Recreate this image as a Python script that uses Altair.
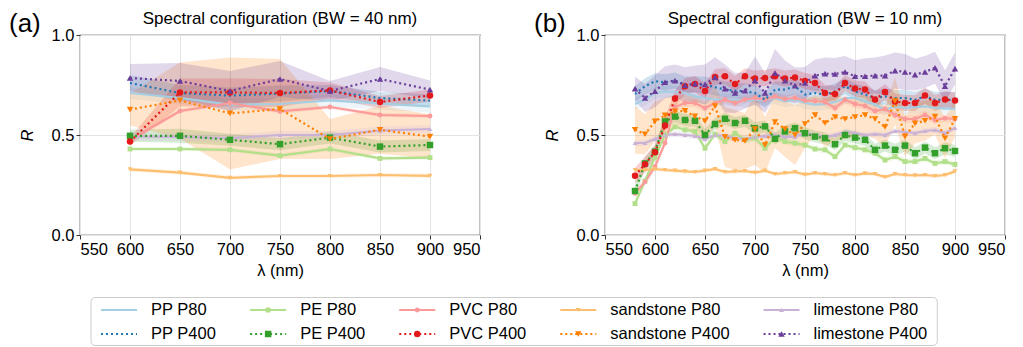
import altair as alt
import pandas as pd

# ---------------- categories / styles ----------------
series = ["PP P80", "PP P400", "PE P80", "PE P400", "PVC P80", "PVC P400",
          "sandstone P80", "sandstone P400", "limestone P80", "limestone P400"]
colors = ["#a6cee3", "#1f78b4", "#b2df8a", "#33a02c", "#fb9a99", "#e31a1c",
          "#fdbf6f", "#ff7f00", "#cab2d6", "#6a3d9a"]
marker_series = ["PE P80", "PE P400", "PVC P80", "PVC P400",
                 "sandstone P80", "sandstone P400", "limestone P80", "limestone P400"]
marker_shapes = ["square", "square", "circle", "circle",
                 "triangle-down", "triangle-down", "triangle-up", "triangle-up"]
x_ticks = [550, 600, 650, 700, 750, 800, 850, 900, 950]
y_ticks = [0.0, 0.5, 1.0]

# ---------------- panel (a): BW = 40 nm ----------------
wl_a = [600, 650, 700, 750, 800, 850, 900]
pp_p80_a = [0.71, 0.685, 0.652, 0.655, 0.673, 0.657, 0.643]
pp_p400_a = [0.76, 0.71, 0.697, 0.707, 0.72, 0.685, 0.672]
pe_p80_a = [0.43, 0.43, 0.426, 0.397, 0.43, 0.383, 0.387]
pe_p400_a = [0.496, 0.496, 0.476, 0.454, 0.487, 0.442, 0.45]
pvc_p80_a = [0.475, 0.62, 0.66, 0.618, 0.64, 0.6, 0.595]
pvc_p400_a = [0.467, 0.713, 0.713, 0.71, 0.723, 0.665, 0.698]
ss_p80_a = [0.328, 0.312, 0.286, 0.295, 0.295, 0.3, 0.296]
ss_p400_a = [0.627, 0.673, 0.608, 0.63, 0.48, 0.526, 0.492]
ls_p80_a = [0.492, 0.49, 0.484, 0.5, 0.5, 0.522, 0.53]
ls_p400_a = [0.785, 0.77, 0.72, 0.78, 0.72, 0.78, 0.727]

pp_p80_a_sd = [0.03, 0.03, 0.03, 0.03, 0.03, 0.03, 0.03]
pp_p400_a_sd = [0.04, 0.04, 0.04, 0.04, 0.03, 0.03, 0.03]
pe_p80_a_sd = [0.01, 0.01, 0.01, 0.01, 0.01, 0.01, 0.01]
pe_p400_a_sd = [0.03, 0.035, 0.03, 0.03, 0.03, 0.03, 0.03]
pvc_p80_a_sd = [0.01, 0.01, 0.01, 0.01, 0.01, 0.01, 0.01]
pvc_p400_a_sd = [0.02, 0.07, 0.07, 0.07, 0.04, 0.03, 0.03]
ss_p80_a_sd = [0.01, 0.01, 0.01, 0.01, 0.01, 0.01, 0.01]
ss_p400_a_sd = [0.08, 0.19, 0.28, 0.25, 0.1, 0.12, 0.11]
ls_p80_a_sd = [0.02, 0.02, 0.02, 0.02, 0.02, 0.02, 0.02]
ls_p400_a_sd = [0.07, 0.09, 0.1, 0.09, 0.05, 0.06, 0.045]

# ---------------- panel (b): BW = 10 nm ----------------
wl_b = [580, 590, 600, 610, 620, 630, 640, 650, 660, 670, 680, 690, 700, 710, 720, 730, 740,
        750, 760, 770, 780, 790, 800, 810, 820, 830, 840, 850, 860, 870, 880, 890, 900]
pp_p80_b = [0.655, 0.677, 0.71, 0.718, 0.715, 0.71, 0.693, 0.685,
            0.677, 0.677, 0.677, 0.668, 0.677, 0.677, 0.685, 0.668, 0.677, 0.66,
            0.652, 0.655, 0.665, 0.685, 0.685, 0.668, 0.652, 0.626, 0.643, 0.635,
            0.638, 0.643, 0.635, 0.632, 0.632]
pp_p400_b = [0.705, 0.744, 0.769, 0.764, 0.772, 0.752, 0.752, 0.752,
             0.739, 0.727, 0.722, 0.718, 0.71, 0.676, 0.727, 0.727, 0.744, 0.702,
             0.71, 0.702, 0.718, 0.744, 0.718, 0.702, 0.685, 0.693, 0.685, 0.685,
             0.676, 0.693, 0.676, 0.676, 0.676]
pe_p80_b = [0.157, 0.27, 0.39, 0.5, 0.541, 0.526, 0.518, 0.434,
            0.504, 0.467, 0.509, 0.476, 0.484, 0.434, 0.487, 0.467, 0.459, 0.45,
            0.43, 0.426, 0.392, 0.45, 0.437, 0.426, 0.409, 0.375, 0.392, 0.367,
            0.367, 0.383, 0.358, 0.367, 0.353]
pe_p400_b = [0.22, 0.358, 0.417, 0.568, 0.592, 0.575, 0.571, 0.5,
             0.555, 0.581, 0.56, 0.571, 0.534, 0.543, 0.481, 0.518, 0.534, 0.509,
             0.492, 0.484, 0.454, 0.5, 0.487, 0.476, 0.426, 0.447, 0.426, 0.447,
             0.409, 0.437, 0.409, 0.434, 0.42]
pvc_p80_b = [0.208, 0.266, 0.342, 0.46, 0.64, 0.66, 0.66, 0.635,
             0.66, 0.677, 0.66, 0.677, 0.685, 0.677, 0.693, 0.68, 0.685, 0.672,
             0.67, 0.665, 0.635, 0.676, 0.655, 0.645, 0.62, 0.63, 0.6, 0.58,
             0.581, 0.6, 0.575, 0.584, 0.58]
pvc_p400_b = [0.296, 0.354, 0.414, 0.547, 0.682, 0.744, 0.755, 0.72,
              0.79, 0.794, 0.755, 0.794, 0.782, 0.785, 0.794, 0.782, 0.787, 0.77,
              0.76, 0.71, 0.705, 0.76, 0.732, 0.727, 0.677, 0.715, 0.668, 0.66,
              0.66, 0.698, 0.66, 0.677, 0.672]
ss_p80_b = [0.325, 0.325, 0.33, 0.325, 0.322, 0.318, 0.315, 0.322,
            0.33, 0.315, 0.318, 0.32, 0.312, 0.322, 0.305, 0.31, 0.315, 0.302,
            0.31, 0.305, 0.3, 0.31, 0.3, 0.308, 0.305, 0.29, 0.305, 0.3,
            0.298, 0.3, 0.295, 0.3, 0.318]
ss_p400_b = [0.526, 0.504, 0.568, 0.598, 0.618, 0.621, 0.593, 0.57,
             0.645, 0.49, 0.475, 0.47, 0.53, 0.45, 0.565, 0.53, 0.5, 0.555,
             0.6, 0.56, 0.59, 0.58, 0.59, 0.6, 0.58, 0.54, 0.67, 0.492,
             0.558, 0.571, 0.592, 0.484, 0.581]
ls_p80_b = [0.46, 0.46, 0.48, 0.5, 0.505, 0.5, 0.495, 0.48,
            0.5, 0.495, 0.485, 0.48, 0.49, 0.495, 0.5, 0.49, 0.49, 0.51,
            0.5, 0.49, 0.5, 0.515, 0.51, 0.5, 0.505, 0.5, 0.52, 0.515,
            0.51, 0.52, 0.525, 0.51, 0.535]
ls_p400_b = [0.732, 0.685, 0.719, 0.764, 0.772, 0.749, 0.757, 0.753,
             0.789, 0.732, 0.71, 0.722, 0.772, 0.71, 0.81, 0.772, 0.747, 0.76,
             0.797, 0.807, 0.805, 0.815, 0.794, 0.794, 0.797, 0.797, 0.822, 0.815,
             0.802, 0.815, 0.836, 0.744, 0.832]

pp_p80_b_sd = [0.03, 0.03, 0.03, 0.03, 0.03, 0.03, 0.03, 0.03, 0.03, 0.03, 0.03,
               0.03, 0.03, 0.03, 0.03, 0.03, 0.03, 0.03, 0.03, 0.03, 0.03, 0.03,
               0.03, 0.03, 0.03, 0.03, 0.03, 0.03, 0.03, 0.03, 0.03, 0.03, 0.03]
pp_p400_b_sd = [0.04, 0.04, 0.04, 0.04, 0.04, 0.04, 0.04, 0.04, 0.04, 0.04, 0.04,
                0.04, 0.04, 0.04, 0.04, 0.04, 0.04, 0.04, 0.04, 0.04, 0.04, 0.04,
                0.04, 0.04, 0.04, 0.04, 0.04, 0.04, 0.04, 0.04, 0.04, 0.04, 0.04]
pe_p80_b_sd = [0.015, 0.015, 0.015, 0.015, 0.015, 0.015, 0.015, 0.015, 0.015, 0.015, 0.015,
               0.015, 0.015, 0.015, 0.015, 0.015, 0.015, 0.015, 0.015, 0.015, 0.015, 0.015,
               0.015, 0.015, 0.015, 0.015, 0.015, 0.015, 0.015, 0.015, 0.015, 0.015, 0.015]
pe_p400_b_sd = [0.03, 0.03, 0.03, 0.03, 0.03, 0.03, 0.03, 0.03, 0.03, 0.03, 0.03,
                0.03, 0.03, 0.03, 0.03, 0.03, 0.03, 0.03, 0.03, 0.03, 0.03, 0.03,
                0.03, 0.03, 0.03, 0.03, 0.03, 0.03, 0.03, 0.03, 0.03, 0.03, 0.03]
pvc_p80_b_sd = [0.02, 0.02, 0.02, 0.02, 0.02, 0.02, 0.02, 0.02, 0.02, 0.02, 0.02,
                0.02, 0.02, 0.02, 0.02, 0.02, 0.02, 0.02, 0.02, 0.02, 0.02, 0.02,
                0.02, 0.02, 0.02, 0.02, 0.02, 0.02, 0.02, 0.02, 0.02, 0.02, 0.02]
pvc_p400_b_sd = [0.04, 0.04, 0.04, 0.04, 0.04, 0.04, 0.04, 0.04, 0.04, 0.04, 0.04,
                 0.04, 0.04, 0.04, 0.04, 0.04, 0.04, 0.04, 0.04, 0.04, 0.04, 0.04,
                 0.04, 0.04, 0.04, 0.04, 0.04, 0.04, 0.04, 0.04, 0.04, 0.04, 0.04]
ss_p80_b_sd = [0.01, 0.01, 0.01, 0.01, 0.01, 0.01, 0.01, 0.01, 0.01, 0.01, 0.01,
               0.01, 0.01, 0.01, 0.01, 0.01, 0.01, 0.01, 0.01, 0.01, 0.01, 0.01,
               0.01, 0.01, 0.01, 0.01, 0.01, 0.01, 0.01, 0.01, 0.01, 0.01, 0.01]
ss_p400_b_sd = [0.12, 0.1, 0.1, 0.09, 0.08, 0.08, 0.1, 0.1,
                0.1, 0.15, 0.15, 0.14, 0.18, 0.14, 0.13, 0.14, 0.15, 0.12,
                0.1, 0.12, 0.12, 0.1, 0.1, 0.1, 0.1, 0.1, 0.12, 0.1,
                0.1, 0.1, 0.09, 0.1, 0.09]
ls_p80_b_sd = [0.015, 0.015, 0.015, 0.015, 0.015, 0.015, 0.015, 0.015, 0.015, 0.015, 0.015,
               0.015, 0.015, 0.015, 0.015, 0.015, 0.015, 0.015, 0.015, 0.015, 0.015, 0.015,
               0.015, 0.015, 0.015, 0.015, 0.015, 0.015, 0.015, 0.015, 0.015, 0.015, 0.015]
ls_p400_b_sd = [0.06, 0.07, 0.08, 0.08, 0.08, 0.09, 0.09, 0.1,
                0.1, 0.12, 0.1, 0.09, 0.12, 0.1, 0.12, 0.1, 0.09, 0.08,
                0.08, 0.08, 0.08, 0.08, 0.08, 0.09, 0.09, 0.1, 0.09, 0.09,
                0.08, 0.08, 0.08, 0.08, 0.08]

means_a = [pp_p80_a, pp_p400_a, pe_p80_a, pe_p400_a, pvc_p80_a, pvc_p400_a,
           ss_p80_a, ss_p400_a, ls_p80_a, ls_p400_a]
sds_a = [pp_p80_a_sd, pp_p400_a_sd, pe_p80_a_sd, pe_p400_a_sd, pvc_p80_a_sd, pvc_p400_a_sd,
         ss_p80_a_sd, ss_p400_a_sd, ls_p80_a_sd, ls_p400_a_sd]
means_b = [pp_p80_b, pp_p400_b, pe_p80_b, pe_p400_b, pvc_p80_b, pvc_p400_b,
           ss_p80_b, ss_p400_b, ls_p80_b, ls_p400_b]
sds_b = [pp_p80_b_sd, pp_p400_b_sd, pe_p80_b_sd, pe_p400_b_sd, pvc_p80_b_sd, pvc_p400_b_sd,
         ss_p80_b_sd, ss_p400_b_sd, ls_p80_b_sd, ls_p400_b_sd]


def build(wl, means, sds):
    rows = []
    for name, m, s in zip(series, means, sds):
        for w, v, e in zip(wl, m, s):
            rows.append(dict(wl=w, series=name, grade=name.split()[-1],
                             material=name.split()[0], R=v, lo=v - e, hi=v + e))
    return pd.DataFrame(rows)


FONT = "Liberation Sans"
TICK_FS = 16.5
color_scale = alt.Scale(domain=series, range=colors)
shape_scale = alt.Scale(domain=marker_series, range=marker_shapes)


def panel(df, title, tag):
    base = alt.Chart(df)
    xaxis = alt.Axis(values=x_ticks, title="λ (nm)", format="d")
    yaxis = alt.Axis(values=y_ticks, title="R", format=".1f", titleFontStyle="italic")
    xs = alt.Scale(domain=[550, 950], nice=False, zero=False)
    ys = alt.Scale(domain=[0, 1], nice=False)
    x = alt.X("wl:Q", scale=xs, axis=xaxis)
    y = alt.Y("R:Q", scale=ys, axis=yaxis)
    color = alt.Color("series:N", scale=color_scale, legend=None)

    bands = base.mark_area(opacity=0.2).encode(
        x=x, y=alt.Y("lo:Q", scale=ys, axis=yaxis), y2="hi:Q", color=color, detail="series:N")
    l80 = base.transform_filter(alt.datum.grade == "P80").mark_line(
        strokeWidth=2.2).encode(x=x, y=y, color=color, detail="series:N")
    p80 = base.transform_filter(
        (alt.datum.grade == "P80") & (alt.datum.material != "PP")).mark_point(
        filled=True, size=24, opacity=1).encode(
        x=x, y=y, color=color, shape=alt.Shape("series:N", scale=shape_scale, legend=None))
    l400 = base.transform_filter(alt.datum.grade == "P400").mark_line(
        strokeWidth=2.2, strokeDash=[2, 3]).encode(x=x, y=y, color=color, detail="series:N")
    p400 = base.transform_filter(
        (alt.datum.grade == "P400") & (alt.datum.material != "PP")).mark_point(
        filled=True, size=42, opacity=1).encode(
        x=x, y=y, color=color, shape=alt.Shape("series:N", scale=shape_scale, legend=None))
    label = alt.Chart(pd.DataFrame({"tag": [tag]})).mark_text(
        fontSize=26, align="left", baseline="middle", font=FONT, color="black").encode(
        text="tag:N", x=alt.value(-71), y=alt.value(-11))
    return alt.layer(bands, l80, p80, l400, p400, label).properties(
        width=400, height=200,
        title=alt.Title(title, fontSize=17, fontWeight="normal", offset=-17, font=FONT,
                        frame="group"))


df_a = build(wl_a, means_a, sds_a)
df_b = build(wl_b, means_b, sds_b)
pa = panel(df_a, "Spectral configuration (BW = 40 nm)", "(a)")
pb = panel(df_b, "Spectral configuration (BW = 10 nm)", "(b)")

# ---------------- legend (manual, 5 columns x 2 rows) ----------------
arial = {"P": 667, "E": 667, "V": 667, "C": 722, " ": 278, "0": 556, "4": 556, "8": 556,
         "s": 500, "a": 556, "n": 556, "d": 556, "t": 278, "o": 556, "e": 556,
         "l": 222, "i": 222, "m": 833}
LEG_FS = 16.5


def text_w(s):
    return sum(arial.get(c, 556) for c in s) / 1000 * LEG_FS


LEG_OFF = 11          # frame offset from the left edge of panel (a)
handle, hpad, colsp, margin = 36, 14, 34, 10
leg_rows = []
xpos = LEG_OFF + margin
for ci in range(5):
    pair = series[2 * ci: 2 * ci + 2]
    for ri, name in enumerate(pair):
        leg_rows.append(dict(series=name, grade=name.split()[-1], material=name.split()[0],
                             row=ri, x0=xpos, x1=xpos + handle, xm=xpos + handle / 2,
                             xt=xpos + handle + hpad))
    xpos += handle + hpad + max(text_w(n) for n in pair) + colsp
LEG_RIGHT = xpos - colsp + margin
LEG_H = 49
leg_df = pd.DataFrame(leg_rows)
frame_df = pd.DataFrame({"f0": [LEG_OFF], "f1": [LEG_RIGHT]})

lx = alt.Scale(domain=[0, LEG_RIGHT], nice=False, zero=False)
ly = alt.Scale(domain=[0, 1], range=[13, 37])
lbase = alt.Chart(leg_df)
lcolor = alt.Color("series:N", scale=color_scale, legend=None)
leg_frame = alt.Chart(frame_df).mark_rect(
    filled=False, color="#cccccc", strokeWidth=1, cornerRadius=4).encode(
    x=alt.X("f0:Q", scale=lx, axis=None), x2="f1:Q",
    y=alt.value(0.5), y2=alt.value(LEG_H - 0.5))
leg_l80 = lbase.transform_filter(alt.datum.grade == "P80").mark_rule(strokeWidth=2.2).encode(
    x=alt.X("x0:Q", scale=lx, axis=None), x2="x1:Q",
    y=alt.Y("row:Q", scale=ly, axis=None), color=lcolor)
leg_l400 = lbase.transform_filter(alt.datum.grade == "P400").mark_rule(
    strokeWidth=2.2, strokeDash=[2, 3]).encode(
    x=alt.X("x0:Q", scale=lx, axis=None), x2="x1:Q",
    y=alt.Y("row:Q", scale=ly, axis=None), color=lcolor)
leg_p80 = lbase.transform_filter(
    (alt.datum.grade == "P80") & (alt.datum.material != "PP")).mark_point(
    filled=True, size=24, opacity=1).encode(
    x=alt.X("xm:Q", scale=lx, axis=None), y=alt.Y("row:Q", scale=ly, axis=None),
    color=lcolor, shape=alt.Shape("series:N", scale=shape_scale, legend=None))
leg_p400 = lbase.transform_filter(
    (alt.datum.grade == "P400") & (alt.datum.material != "PP")).mark_point(
    filled=True, size=42, opacity=1).encode(
    x=alt.X("xm:Q", scale=lx, axis=None), y=alt.Y("row:Q", scale=ly, axis=None),
    color=lcolor, shape=alt.Shape("series:N", scale=shape_scale, legend=None))
leg_txt = lbase.mark_text(align="left", baseline="middle", fontSize=LEG_FS, font=FONT,
                          color="black").encode(
    x=alt.X("xt:Q", scale=lx, axis=None), y=alt.Y("row:Q", scale=ly, axis=None),
    text="series:N")
legend = alt.layer(leg_frame, leg_l80, leg_l400, leg_p80, leg_p400, leg_txt).properties(
    width=LEG_RIGHT, height=LEG_H,
    view=alt.ViewBackground(stroke="transparent"))

chart = alt.vconcat(
    alt.hconcat(pa, pb, spacing=51),
    legend, spacing=16
).properties(
    padding={"left": 0, "top": 1, "right": 0, "bottom": 0}
).configure(font=FONT).configure_axis(
    labelFontSize=TICK_FS, titleFontSize=TICK_FS, titleFontWeight="normal",
    labelColor="black", titleColor="black", gridColor="#e3e3e3", gridWidth=1,
    domain=False, tickColor="#333333", tickSize=4, labelPadding=2, labelFont=FONT, titleFont=FONT
).configure_axisX(titlePadding=5).configure_axisY(titlePadding=16).configure_view(
    stroke="#333333", strokeWidth=1.2
).configure_title(color="black")

chart.save("out.html", embed_options={"renderer": "svg", "actions": False})
